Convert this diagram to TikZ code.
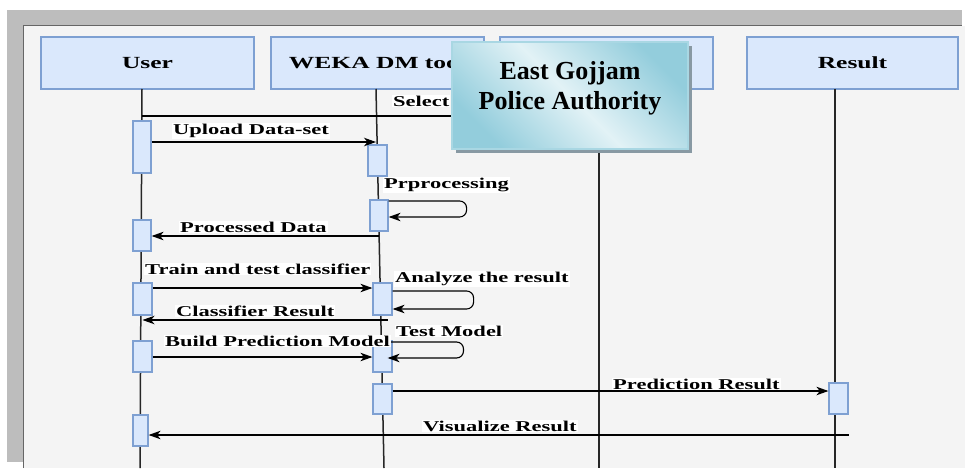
\documentclass[tikz,border=0pt]{standalone}
\usepackage{fontspec}
\setmainfont{Liberation Serif}
\newfontfamily\seqfont[FakeStretch=1.5]{Liberation Serif}
\usetikzlibrary{arrows.meta,shadows}
\definecolor{kopf}{HTML}{DAE8FC}
\definecolor{kopfrand}{HTML}{7EA0D2}
\definecolor{flaeche}{HTML}{F4F4F4}
\definecolor{rahmen}{HTML}{BDBDBD}
\definecolor{tuerkis}{HTML}{93CDDC}
\definecolor{hell}{HTML}{E2F2F6}
\definecolor{schatten}{HTML}{8899A3}
\tikzset{
  kopfbox/.style={draw=kopfrand, fill=kopf, line width=1.2pt, minimum width=213pt, minimum height=52pt, inner sep=0pt, font=\seqfont\bfseries\fontsize{17}{20}\selectfont},
  akt/.style={draw=kopfrand, fill=kopf, line width=1.2pt, minimum width=18pt, minimum height=31pt, inner sep=0pt},
  leben/.style={line width=1.5pt, black!85},
  msg/.style={line width=1.1pt, -{Stealth[length=12pt,width=8.5pt,inset=3.5pt]}},
  lbl/.style={fill=white, inner sep=1pt, anchor=west, font=\seqfont\bfseries\fontsize{15}{18}\selectfont},
  gojjam/.style={draw=tuerkis!80, line width=2pt, top color=tuerkis, bottom color=tuerkis, middle color=hell, shading angle=-45, minimum width=236pt, minimum height=107pt, drop shadow={shadow xshift=4pt, shadow yshift=-4pt, fill=schatten, opacity=1}},
  titel/.style={align=center, font=\bfseries\fontsize{26}{30}\selectfont},
}
\begin{document}
\begin{tikzpicture}[x=1pt,y=-1pt]
  \useasboundingbox (0,0) rectangle (965,468);
  % Hintergrund
  \fill[white] (0,0) rectangle (965,468);
  \fill[rahmen] (7,10) rectangle (962,26);
  \fill[rahmen] (7,10) rectangle (23,462);
  \fill[flaeche] (23,26) rectangle (965,468);
  \draw[black!60, line width=1pt] (23,468) -- (23,26) -- (962,26);

  % Koepfe
  \node[kopfbox] (user) at (147.5,63) {User};
  \node[kopfbox] (weka) at (377.5,63) {WEKA DM tool};
  \node[kopfbox] (polizei) at (606.5,63) {};
  \node[kopfbox, minimum width=211pt] (result) at (852.5,63) {Result};

  % Lebenslinien
  \coordinate (uo) at (142,89);  \coordinate (uu) at (140,468);
  \coordinate (wo) at (376,89);  \coordinate (wu) at (384,468);
  \coordinate (po) at (599,89);  \coordinate (pu) at (599,468);
  \coordinate (ro) at (835,89);  \coordinate (ru) at (835,468);
  \draw[leben] (uo) -- (uu);
  \draw[leben] (wo) -- (wu);
  \draw[leben] (po) -- (pu);
  \draw[leben] (ro) -- (ru);

  % Aktivierungen
  \node[akt, minimum height=52pt] (ua1) at (142,147) {};
  \node[akt] (ua2) at (142,235.5) {};
  \node[akt, minimum width=19pt, minimum height=32pt] (ua3) at (142.5,299) {};
  \node[akt, minimum width=19pt] (ua4) at (142.5,356.5) {};
  \node[akt, minimum width=15pt] (ua5) at (140.5,430.5) {};
  \node[akt, minimum width=19pt] (wa1) at (377.5,160.5) {};
  \node[akt] (wa2) at (379,215.5) {};
  \node[akt, minimum width=19pt, minimum height=32pt] (wa3) at (382.5,299) {};
  \node[akt, minimum width=19pt] (wa4) at (382.5,356.5) {};
  \node[akt, minimum width=19pt, minimum height=30pt] (wa5) at (382.5,399) {};
  \node[akt, minimum width=19pt, minimum height=32pt] (ta1) at (597.5,134) {};
  \node[akt, minimum width=19pt] (ra1) at (838.5,398.5) {};

  % Nachrichten
  \coordinate (n1) at (0,116);
  \coordinate (n2) at (0,142);
  \coordinate (n4) at (0,236);
  \coordinate (n5) at (0,288);
  \coordinate (n7) at (0,320);
  \coordinate (n8) at (0,357);
  \coordinate (n10) at (0,391);
  \coordinate (n11) at (0,435);
  \draw[msg] (uo |- n1) -- (ta1.west |- n1);
  \draw[msg] (ua1.east |- n2) -- (wo |- n2);
  \draw[msg] (wa2.south |- n4) -- (ua2.east |- n4);
  \draw[msg] (ua3.east |- n5) -- (wa3.west |- n5);
  \draw[msg] ([xshift=5pt]wa3.south |- n7) -- (ua3.south |- n7);
  \draw[msg] (ua4.east |- n8) -- (wa4.west |- n8);
  \draw[msg] (wa5.east |- n10) -- (ra1.west |- n10);
  \draw[msg] (ra1.east |- n11) -- (ua5.east |- n11);

  % Selbstaufrufe
  \coordinate (s1) at (0,201); \coordinate (s2) at (0,217);
  \coordinate (s3) at (0,291); \coordinate (s4) at (0,309);
  \coordinate (s5) at (0,342); \coordinate (s6) at (0,358);
  \draw[msg, rounded corners=7pt] (wa2.east |- s1) -- ++(78,0) -- ++(0,16) -- (wa2.east |- s2);
  \draw[msg, rounded corners=7pt] (wa3.east |- s3) -- ++(81,0) -- ++(0,18) -- (wa3.east |- s4);
  \draw[msg, rounded corners=7pt] ([xshift=-5pt]wa4.north |- s5) -- ++(86,0) -- ++(0,16) -- ([xshift=-5pt]wa4.east |- s6);

  % Beschriftungen
  \node[lbl] (lSelect) at (392,101) {Select};
  \node[lbl] (lUpload) at (172,131) {Upload Data-set};
  \node[lbl] (lPre) at (383,185) {Prprocessing};
  \node[lbl] (lData) at (179,227) {Processed Data};
  \node[lbl] (lTrain) at (144,269) {Train and test classifier};
  \node[lbl] (lAna) at (394,279) {Analyze the result};
  \node[lbl] (lClass) at (175,311) {Classifier Result};
  \node[lbl] (lBuild) at (164,341) {Build Prediction Model};
  \node[lbl] (lTest) at (395,331) {Test Model};
  \node[lbl] (lPred) at (612,384) {Prediction Result};
  \node[lbl] (lVis) at (422,426) {Visualize Result};

  % Ueberlagerung
  \node[gojjam] (egpa) at (570,95.5) {};
  \node[titel] (egpaText) at ([yshift=7pt]egpa.center) {East Gojjam\\Police Authority};
\end{tikzpicture}
\end{document}
